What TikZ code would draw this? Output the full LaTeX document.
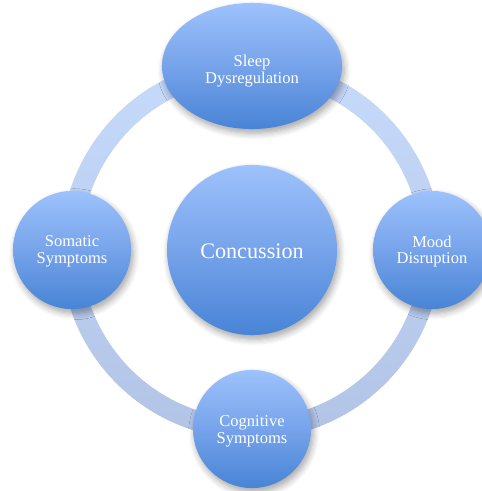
\documentclass[tikz,border=0pt]{standalone}
\usepackage{fontspec}
\setmainfont{Liberation Serif}
\usetikzlibrary{shapes.geometric,shadows.blur}
\definecolor{cTop}{RGB}{157,194,252}
\definecolor{cMid}{RGB}{118,163,234}
\definecolor{cBot}{RGB}{72,132,214}
\definecolor{ringTop}{RGB}{198,218,252}
\definecolor{ringBot}{RGB}{178,196,230}
\tikzset{
  bubble/.style={circle, inner sep=0pt, minimum size=1.18cm, align=center,
    top color=cTop, bottom color=cBot, middle color=cMid, draw=none,
    text=white, font=\fontsize{4.7pt}{4.8pt}\selectfont,
    blur shadow={shadow xshift=0.6pt, shadow yshift=-1.2pt, shadow blur steps=6, shadow opacity=35}},
  bigbubble/.style={bubble, minimum size=1.70cm, font=\fontsize{6.3pt}{6.5pt}\selectfont},
  ovalbubble/.style={bubble, ellipse, minimum width=1.80cm, minimum height=1.26cm},
  lbl/.style={text=white, align=center, inner sep=0pt, font=\fontsize{4.7pt}{4.8pt}\selectfont}
}
\begin{document}
\begin{tikzpicture}[x=0.01cm,y=-0.01cm]
\useasboundingbox (0,0) rectangle (481,491);
\coordinate (rc) at (251,249);
% ring shadow
\fill[black, opacity=0.12, even odd rule, shift={(1.5,2.5)}] (rc) circle[radius=1.90cm] (rc) circle[radius=1.70cm];
% ring
\shade[top color=ringTop, bottom color=ringBot, even odd rule] (rc) circle[radius=1.90cm] (rc) circle[radius=1.70cm];
% nodes
\node[bigbubble] (conc) at (252,250) {};
\node[ovalbubble] (sleep) at (252,66) {};
\node[bubble] (soma) at (72,250) {};
\node[bubble] (mood) at (432,250) {};
\node[bubble] (cog) at (252,429) {};
% labels
\node[lbl, font=\fontsize{6.3pt}{6.5pt}\selectfont] (concT) at ([yshift=-0.01cm]conc.center) {Concussion};
\node[lbl] (sleepT) at ([yshift=-0.05cm]sleep.center) {Sleep\\Dysregulation};
\node[lbl] (somaT) at ([yshift=-0.015cm]soma.center) {Somatic\\Symptoms};
\node[lbl] (moodT) at ([yshift=-0.015cm]mood.center) {Mood\\Disruption};
\node[lbl] (cogT) at ([yshift=-0.02cm]cog.center) {Cognitive\\Symptoms};
\end{tikzpicture}
\end{document}
